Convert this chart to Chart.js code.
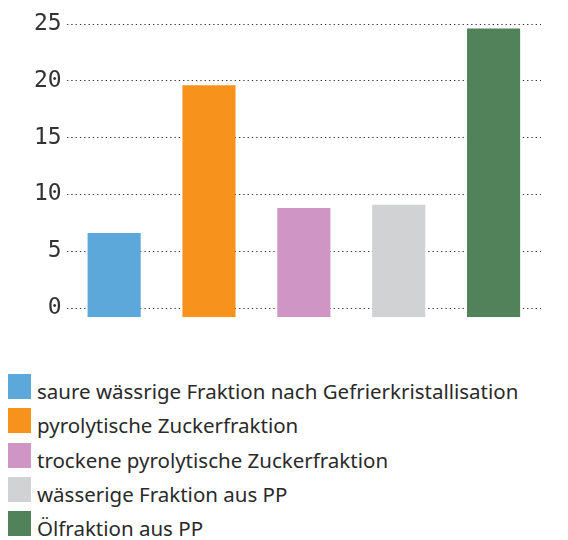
<!DOCTYPE html>
<html>
<head>
<meta charset="utf-8">
<script src="https://cdn.jsdelivr.net/npm/chart.js@4"></script>
<style>
  body { margin: 0; background: #fff; }
  #wrap { position: relative; width: 568px; height: 540px; }
  #chart-box { position: absolute; left: 0; top: 0; width: 568px; height: 336px; }
  #legende { position: absolute; left: 8px; top: 374px; font-family: 'Noto Sans', sans-serif; font-size: 20.5px; color: #2a2a2a; }
  #legende .fila { height: 34.3px; line-height: 34.3px; white-space: nowrap; }
  #legende .caja { display: inline-block; width: 23px; height: 25px; margin-right: 6px; }
</style>
</head>
<body>
<div id="wrap">
  <div id="chart-box"><canvas id="fracciones"></canvas></div>
  <div id="legende"></div>
</div>
<script>
const kategorien = [
  'saure wässrige Fraktion nach Gefrierkristallisation',
  'pyrolytische Zuckerfraktion',
  'trockene pyrolytische Zuckerfraktion',
  'wässerige Fraktion aus PP',
  'Ölfraktion aus PP'
];
const werte = [6.6, 19.6, 8.8, 9.1, 24.6];
const farben = ['#5ca8db', '#f7931d', '#cf96c5', '#d1d2d4', '#52825a'];
const yTicks = [0, 5, 10, 15, 20, 25];
const yMin = -0.8;

const ctx = document.getElementById('fracciones');

new Chart(ctx, {
  type: 'bar',
  data: {
    labels: kategorien,
    datasets: [{
      data: werte,
      base: yMin,
      backgroundColor: farben,
      categoryPercentage: 1,
      barPercentage: 0.56
    }]
  },
  options: {
    responsive: true,
    maintainAspectRatio: false,
    animation: false,
    layout: {
      padding: { left: 29, right: 27, top: 24, bottom: 9 }
    },
    plugins: {
      legend: { display: false },
      tooltip: { enabled: false }
    },
    scales: {
      x: { display: false },
      y: {
        min: yMin,
        max: 25,
        border: { display: false, dash: [1.3, 3] },
        grid: {
          color: '#333',
          lineWidth: 1,
          drawTicks: false
        },
        afterBuildTicks: (scale) => {
          scale.ticks = yTicks.map((v) => ({ value: v }));
        },
        ticks: {
          padding: 5,
          color: '#333',
          font: { family: "'DejaVu Sans Mono', monospace", size: 23 }
        }
      }
    }
  }
});

// Legende als HTML-Liste
const legende = document.getElementById('legende');
kategorien.forEach((nombre, i) => {
  const fila = document.createElement('div');
  fila.className = 'fila';
  const caja = document.createElement('span');
  caja.className = 'caja';
  caja.style.background = farben[i];
  fila.appendChild(caja);
  fila.appendChild(document.createTextNode(nombre));
  legende.appendChild(fila);
});
</script>
</body>
</html>
